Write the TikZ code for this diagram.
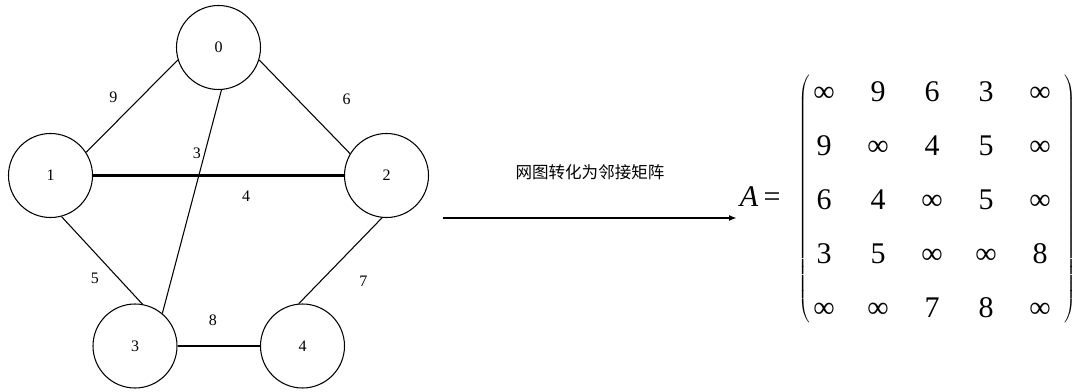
\documentclass[tikz,border=0pt]{standalone}
\usepackage{fontspec}
\setmainfont{Liberation Serif}
\newfontfamily\cjk{Noto Sans CJK SC}
\usepackage{tikz}
\usetikzlibrary{arrows.meta,positioning,matrix}

\begin{document}
\begin{tikzpicture}[
  x=0.75pt, y=-0.75pt,
  font=\fontsize{12}{14}\selectfont,
  >={Latex[length=6pt,width=4.5pt]},
  vert/.style={circle, draw, line width=0.8pt, minimum size=63pt, inner sep=0pt},
  edge/.style={line width=0.8pt},
  heavy/.style={line width=1.8pt},
  wt/.style={inner sep=1pt},
  big/.style={font=\fontsize{22.5}{27}\selectfont},
  entry/.style={big, text height=15pt, text depth=0pt, minimum width=24pt,
    inner xsep=0pt, inner ysep=6.75pt},
  every left delimiter/.style={xshift=3pt},
  every right delimiter/.style={xshift=5pt}
]
\useasboundingbox (0,0) rectangle (1075,392);
% network
\node[vert] (n0) at (218.5,47.5) {0};
\node[vert] (n1) at (50.5,175.5) {1};
\node[vert] (n2) at (386.5,175.5) {2};
\node[vert] (n3) at (135,346) {3};
\node[vert] (n4) at (302.5,346) {4};
\draw[edge] (n0.197) -- node[wt, xshift=-14pt, yshift=7pt] {9} (n1.33);
\draw[edge] (n0.343) -- node[wt, xshift=31.6pt, yshift=5.9pt] {6} (n2.149);
\draw[edge] (n0.274) -- node[wt, pos=.285, xshift=-5.9pt] {3} (n3.50);
\draw[heavy] (n1.east) -- node[wt, pos=.61, yshift=-15.9pt] {4} (n2.west);
\draw[edge] (n1.285) -- node[wt, pos=.7, xshift=-17.5pt] {5} (n3.80);
\draw[edge] (n2.264) -- node[wt, pos=.74, xshift=32.2pt] {7} (n4.95);
\draw[heavy] (n3.east) -- node[wt, pos=.43, yshift=19.5pt] {8} (n4.west);
% adjacency matrix
\node[big, anchor=base west, inner sep=2pt] (lhs) at (737,207) {\textit{A}\kern4pt=};
\matrix (adj) [matrix of nodes, nodes={entry}, row sep=12pt, column sep=16.5pt,
  inner sep=0pt, left delimiter={(}, right delimiter={)}] at (932,199) {
  ∞ & 9 & 6 & 3 & ∞ \\
  9 & ∞ & 4 & 5 & ∞ \\
  6 & 4 & ∞ & 5 & ∞ \\
  3 & 5 & ∞ & ∞ & 8 \\
  ∞ & ∞ & 7 & 8 & ∞ \\
};
% conversion arrow
\coordinate (src) at (443,218);
\draw[->, line width=1.2pt] (src) -- node[font={\cjk\fontsize{12.4}{14}\selectfont}, yshift=34pt] {网图转化为邻接矩阵} (src -| lhs.west);
\end{tikzpicture}
\end{document}
